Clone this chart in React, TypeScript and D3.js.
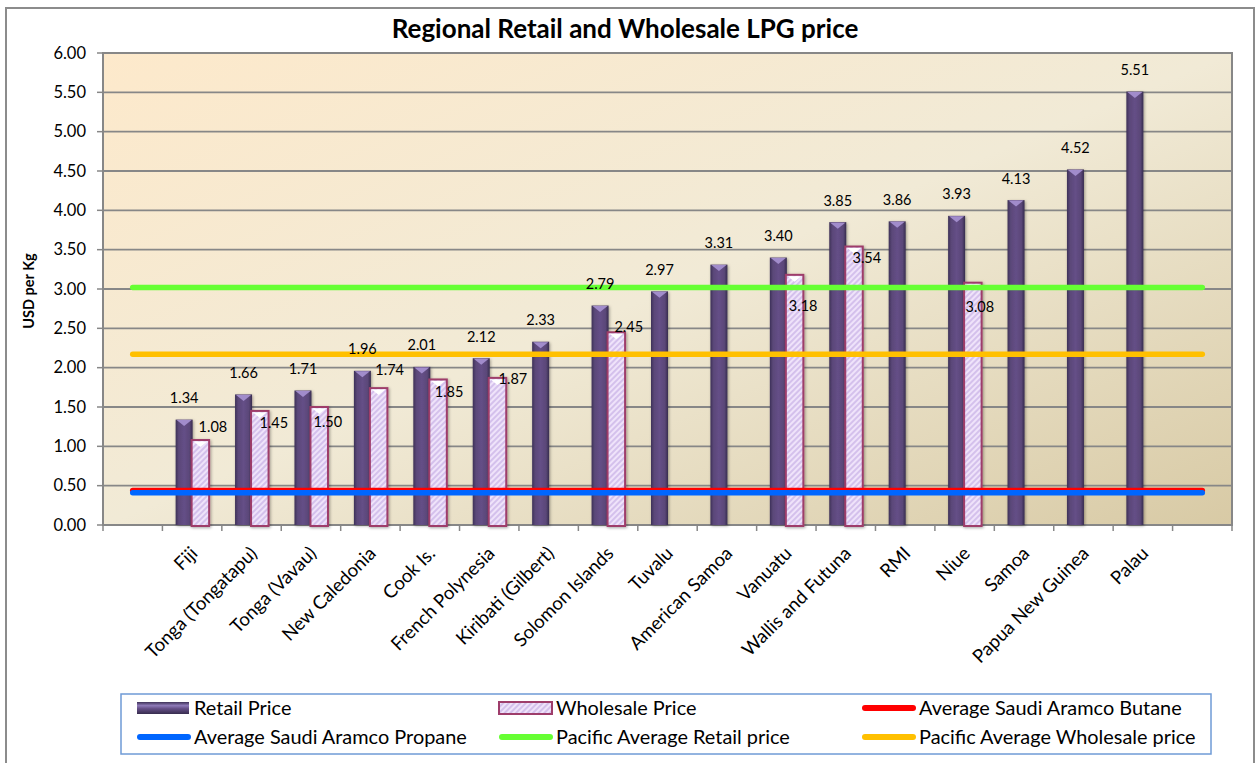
import React from 'react';
import * as d3 from 'd3';

const countries = [
  'Fiji', 'Tonga (Tongatapu)', 'Tonga (Vavau)', 'New Caledonia', 'Cook Is.',
  'French Polynesia', 'Kiribati (Gilbert)', 'Solomon Islands', 'Tuvalu',
  'American Samoa', 'Vanuatu', 'Wallis and Futuna', 'RMI', 'Niue', 'Samoa',
  'Papua New Guinea', 'Palau',
];
const retailPrice = [1.34, 1.66, 1.71, 1.96, 2.01, 2.12, 2.33, 2.79, 2.97, 3.31, 3.40, 3.85, 3.86, 3.93, 4.13, 4.52, 5.51];
const wholesalePrice: (number | null)[] = [1.08, 1.45, 1.50, 1.74, 1.85, 1.87, null, 2.45, null, null, 3.18, 3.54, null, 3.08, null, null, null];
const avgButane = 0.44;
const avgPropane = 0.41;
const pacificAvgRetail = 3.02;
const pacificAvgWholesale = 2.17;
const yTicks = [0, 0.5, 1, 1.5, 2, 2.5, 3, 3.5, 4, 4.5, 5, 5.5, 6];

// layout: manual nudges of wholesale data labels (px), as placed in the original
const wholesaleLabelDx = [12.5, 14, 8.6, 11, 11, 15.4, 0, 12.4, 0, 0, 8.6, 12.8, 0, 7, 0, 0, 0];
const wholesaleLabelDy = [-13, 12, 15, -18, 12.5, 1, 0, -5.6, 0, 0, 31, 11, 0, 24, 0, 0, 0];

const W = 1257, H = 763;
const PL = 103, PR = 1232, PT = 53, PB = 525;
const FONT = 'Lato, "Open Sans", sans-serif';

const legendItems = [
  { label: 'Retail Price', kind: 'retail', col: 0, row: 0 },
  { label: 'Wholesale Price', kind: 'wholesale', col: 1, row: 0 },
  { label: 'Average Saudi Aramco Butane', kind: 'line', color: '#FF0000', col: 2, row: 0 },
  { label: 'Average Saudi Aramco Propane', kind: 'line', color: '#0066FF', col: 0, row: 1 },
  { label: 'Pacific Average Retail price', kind: 'line', color: '#66FF33', col: 1, row: 1 },
  { label: 'Pacific Average Wholesale price', kind: 'line', color: '#FFC000', col: 2, row: 1 },
];

export default function App() {
  const slots = d3.range(countries.length + 2);
  const x = d3.scaleBand<number>().domain(slots).range([PL, PR]).padding(0);
  const bw = x.bandwidth();
  const y = d3.scaleLinear().domain([0, 6]).range([PB, PT]);
  const cx = (i: number) => (x(i + 1) as number) + bw / 2;

  const hLine = (v: number) =>
    d3.line<number>().x((s) => (x(s) as number) + bw / 2).y(() => y(v))(slots) as string;

  const lines = [
    { v: avgButane, color: '#FF0000' },
    { v: avgPropane, color: '#0066FF' },
    { v: pacificAvgRetail, color: '#66FF33' },
    { v: pacificAvgWholesale, color: '#FFC000' },
  ];

  const legColX = [137, 499, 862];
  const legRowY = [708, 737];

  return (
    <svg width={W} height={H} style={{ position: 'absolute', left: 0, top: 0 }} fontFamily={FONT}>
      <defs>
        <linearGradient id="plotBg" x1="0" y1="0" x2="1" y2="1">
          <stop offset="0" stopColor="#FDE9CB" />
          <stop offset="0.5" stopColor="#F1EAD6" />
          <stop offset="1" stopColor="#D8CAA5" />
        </linearGradient>
        <linearGradient id="retailGrad" x1="0" y1="0" x2="1" y2="0">
          <stop offset="0" stopColor="#3D3157" />
          <stop offset="0.18" stopColor="#5A4778" />
          <stop offset="0.5" stopColor="#654F87" />
          <stop offset="0.82" stopColor="#5A4778" />
          <stop offset="1" stopColor="#372C4E" />
        </linearGradient>
        <linearGradient id="retailLeg" x1="0" y1="0" x2="0" y2="1">
          <stop offset="0" stopColor="#3D3157" />
          <stop offset="0.3" stopColor="#8E7AB8" />
          <stop offset="0.55" stopColor="#654F87" />
          <stop offset="1" stopColor="#372C4E" />
        </linearGradient>
        <pattern id="hatch" patternUnits="userSpaceOnUse" width="4" height="4" patternTransform="rotate(45)">
          <rect width="4" height="4" fill="#EFE3FA" />
          <line x1="1" y1="0" x2="1" y2="4" stroke="#C9B2E6" strokeWidth="1.4" />
        </pattern>
        <filter id="shadow" x="-50%" y="-5%" width="200%" height="110%">
          <feDropShadow dx="1" dy="1" stdDeviation="1.6" floodColor="#000" floodOpacity="0.35" />
        </filter>
      </defs>

      <rect x={0} y={0} width={W} height={H} fill="#fff" />
      <rect x={6} y={8} width={1248} height={770} fill="#fff" stroke="#8C8C8C" strokeWidth={2} />

      <text x={625} y={38} textAnchor="middle" fontWeight="bold" fontSize={26} fill="#000">
        Regional Retail and Wholesale LPG price
      </text>

      <rect x={PL} y={PT} width={PR - PL} height={PB - PT} fill="url(#plotBg)" />

      {yTicks.filter((t) => t > 0 && t < 6).map((t) => (
        <line key={'g' + t} x1={PL} x2={PR} y1={y(t)} y2={y(t)} stroke="#878787" strokeWidth={1.8} />
      ))}
      <rect x={PL} y={PT} width={PR - PL} height={PB - PT} fill="none" stroke="#878787" strokeWidth={2} />

      {yTicks.map((t) => (
        <g key={'yt' + t}>
          <line x1={PL - 6} x2={PL} y1={y(t)} y2={y(t)} stroke="#878787" strokeWidth={1.5} />
          <text x={86} y={y(t)} dy="0.35em" textAnchor="end" fontSize={16.5} fill="#000">
            {t.toFixed(2)}
          </text>
        </g>
      ))}
      {slots.map((s) => (
        <line key={'xt' + s} x1={x(s) as number} x2={x(s) as number} y1={PB} y2={PB + 6} stroke="#878787" strokeWidth={1.5} />
      ))}
      <line x1={PR} x2={PR} y1={PB} y2={PB + 6} stroke="#878787" strokeWidth={1.5} />

      <text transform="translate(34,291) rotate(-90)" textAnchor="middle" fontWeight="bold" fontSize={14.5} fill="#000">
        USD per Kg
      </text>

      {/* bars */}
      {retailPrice.map((v, i) => {
        const c = cx(i);
        const x0 = c - 16.5, x1 = c + 0.5;
        const top = y(v);
        return (
          <g key={'r' + i}>
            <rect x={x0} y={top} width={x1 - x0} height={PB - top} fill="url(#retailGrad)" filter="url(#shadow)" />
            <polygon points={`${x0 + 1},${top + 0.5} ${x1 - 1},${top + 0.5} ${(x0 + x1) / 2},${top + 6.5}`} fill="#A18CCB" />
          </g>
        );
      })}
      {wholesalePrice.map((v, i) => {
        if (v == null) return null;
        const c = cx(i);
        const x0 = c - 0.5, x1 = c + 17;
        const top = y(v);
        return (
          <g key={'w' + i}>
            <rect x={x0} y={top} width={x1 - x0} height={PB - top + 1} fill="url(#hatch)" stroke="#9E3D6B" strokeWidth={2} filter="url(#shadow)" />
            <polygon points={`${x0 + 2},${top + 1.5} ${x1 - 2},${top + 1.5} ${(x0 + x1) / 2},${top + 7}`} fill="#FFFFFF" />
          </g>
        );
      })}

      {/* average lines */}
      {lines.map((l, k) => (
        <path key={'l' + k} d={hLine(l.v)} stroke={l.color} strokeWidth={5.5} strokeLinecap="round" fill="none" />
      ))}

      {/* data labels */}
      {retailPrice.map((v, i) => (
        <text key={'rl' + i} x={cx(i) - 8} y={y(v) - 21.5} dy="0.35em" textAnchor="middle" fontSize={14.5} fill="#000">
          {v.toFixed(2)}
        </text>
      ))}
      {wholesalePrice.map((v, i) =>
        v == null ? null : (
          <text key={'wl' + i} x={cx(i) + 8.25 + wholesaleLabelDx[i]} y={y(v) + wholesaleLabelDy[i]} dy="0.35em" textAnchor="middle" fontSize={14.5} fill="#000">
            {v.toFixed(2)}
          </text>
        )
      )}

      {/* category labels */}
      {countries.map((name, i) => (
        <text key={'c' + i} transform={`translate(${cx(i) + 2},${PB + 25}) rotate(-45)`} textAnchor="end" dy="0.35em" fontSize={18.6} fill="#000">
          {name}
        </text>
      ))}

      {/* legend */}
      <rect x={121} y={694} width={1090} height={60} fill="#fff" stroke="#6F9BD6" strokeWidth={1.5} />
      {legendItems.map((it, k) => {
        const lx = legColX[it.col];
        const ly = legRowY[it.row];
        return (
          <g key={'lg' + k}>
            {it.kind === 'retail' && (
              <rect x={lx} y={ly - 6} width={52} height={12} fill="url(#retailLeg)" />
            )}
            {it.kind === 'wholesale' && (
              <rect x={lx} y={ly - 6} width={53} height={12} fill="url(#hatch)" stroke="#9E3D6B" strokeWidth={2} />
            )}
            {it.kind === 'line' && (
              <line x1={lx + 3} x2={lx + 51} y1={ly} y2={ly} stroke={it.color} strokeWidth={6} strokeLinecap="round" />
            )}
            <text x={lx + 57} y={ly} dy="0.36em" fontSize={19.9} fill="#000">
              {it.label}
            </text>
          </g>
        );
      })}
    </svg>
  );
}
